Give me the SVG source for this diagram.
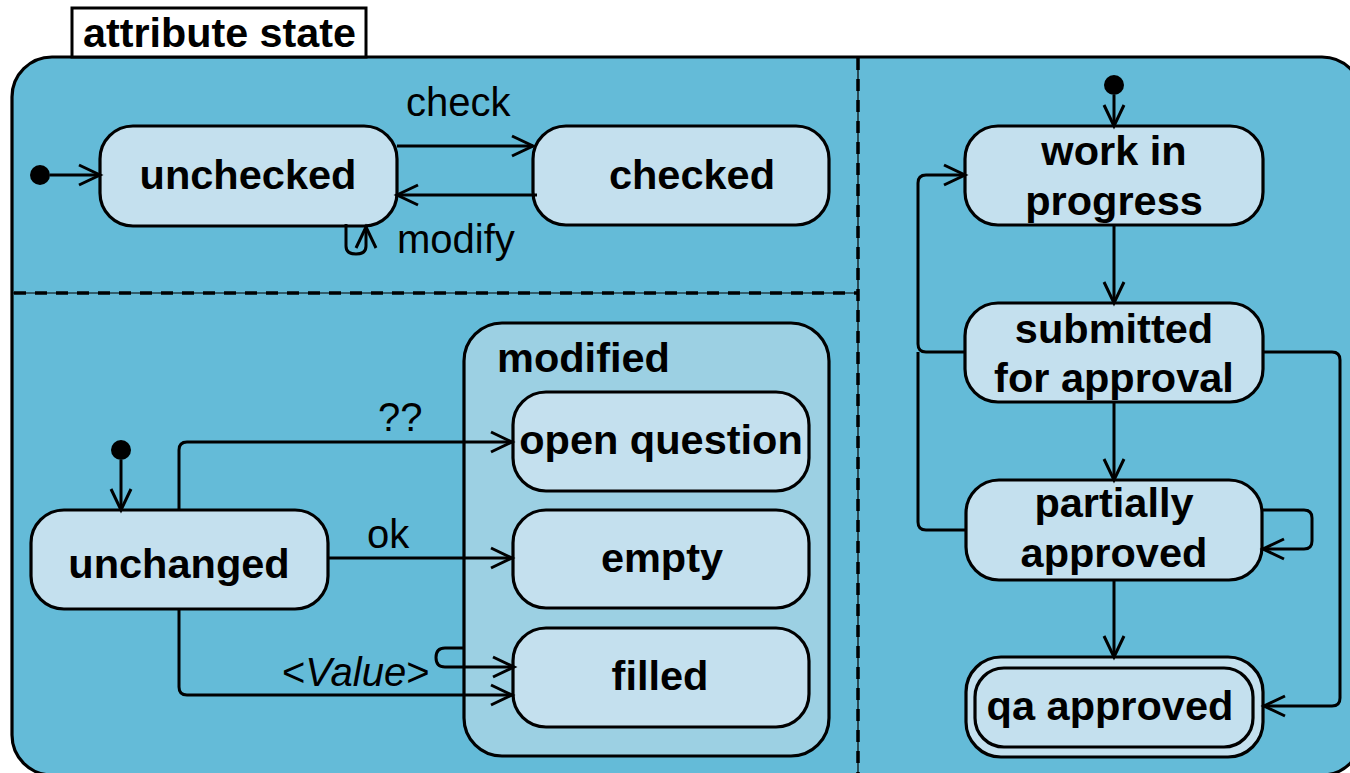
<svg xmlns="http://www.w3.org/2000/svg" width="1350" height="773" viewBox="0 0 1350 773">
<defs>
<style>
.state{fill:#C4E0EE;stroke:#000;stroke-width:3.2}
.lbl{font-family:"Liberation Sans",Arial,sans-serif;font-weight:bold;font-size:41.5px;fill:#000}
.tr{font-family:"Liberation Sans",Arial,sans-serif;font-size:40px;fill:#000}
.conn{fill:none;stroke:#000;stroke-width:3;stroke-linejoin:round}
.dash{fill:none;stroke:#000;stroke-width:3.5;stroke-dasharray:12,9}
.thin{fill:none;stroke:#000;stroke-width:1.2}
</style>
<marker id="arr" markerUnits="userSpaceOnUse" markerWidth="30" markerHeight="30" viewBox="-25 -15 30 30" refX="0" refY="0" orient="auto">
<path d="M-21,-10 L0,0 L-21,10" fill="none" stroke="#000" stroke-width="3"/>
</marker>
</defs>

<g id="container">
<rect x="12" y="57" width="1350" height="718" rx="40" ry="40" fill="#64BBD8" stroke="#000" stroke-width="3.2"/>
<line class="thin" x1="858" y1="58" x2="858" y2="773"/>
<line class="dash" x1="858" y1="58" x2="858" y2="773"/>
<line class="thin" x1="13" y1="293" x2="858" y2="293"/>
<line class="dash" x1="14" y1="293" x2="858" y2="293"/>
</g>

<g id="title">
<rect x="72" y="8" width="294" height="49" fill="#fff" stroke="#000" stroke-width="3"/>
<text class="lbl" x="83" y="47" font-size="39.5" textLength="273" lengthAdjust="spacingAndGlyphs">attribute state</text>
</g>

<g id="modified">
<rect x="464" y="323" width="365" height="433" rx="38" ry="38" fill="#9CD0E3" stroke="#000" stroke-width="3.2"/>
<text class="lbl" x="497" y="372">modified</text>
</g>

<g id="init1"><circle cx="40" cy="175" r="10" fill="#000"/></g>
<g id="init2"><circle cx="121" cy="450" r="10" fill="#000"/></g>
<g id="init3"><circle cx="1114" cy="85" r="10" fill="#000"/></g>

<g id="unchecked">
<rect class="state" x="100" y="126" width="297" height="100" rx="33" ry="33"/>
<text class="lbl" x="248" y="189" text-anchor="middle">unchecked</text>
</g>
<g id="checked">
<rect class="state" x="533" y="126" width="296" height="99" rx="33" ry="33"/>
<text class="lbl" x="692" y="189" text-anchor="middle">checked</text>
</g>
<g id="unchanged">
<rect class="state" x="31" y="510" width="297" height="99" rx="33" ry="33"/>
<text class="lbl" x="179" y="578" text-anchor="middle">unchanged</text>
</g>
<g id="open-question">
<rect class="state" x="513" y="392" width="296" height="99" rx="33" ry="33"/>
<text class="lbl" x="661" y="454" text-anchor="middle">open question</text>
</g>
<g id="empty">
<rect class="state" x="513" y="510" width="296" height="98" rx="33" ry="33"/>
<text class="lbl" x="662" y="572" text-anchor="middle">empty</text>
</g>
<g id="filled">
<rect class="state" x="513" y="628" width="296" height="99" rx="33" ry="33"/>
<text class="lbl" x="660" y="690" text-anchor="middle">filled</text>
</g>
<g id="work-in-progress">
<rect class="state" x="965" y="126" width="298" height="99" rx="33" ry="33"/>
<text class="lbl" x="1114" y="165" text-anchor="middle">work in</text>
<text class="lbl" x="1114" y="215" text-anchor="middle">progress</text>
</g>
<g id="submitted">
<rect class="state" x="965" y="303" width="298" height="99" rx="33" ry="33"/>
<text class="lbl" x="1114" y="343" text-anchor="middle">submitted</text>
<text class="lbl" x="1114" y="392" text-anchor="middle">for approval</text>
</g>
<g id="partially-approved">
<rect class="state" x="966" y="480" width="296" height="100" rx="33" ry="33"/>
<text class="lbl" x="1114" y="517" text-anchor="middle">partially</text>
<text class="lbl" x="1114" y="567" text-anchor="middle">approved</text>
</g>
<g id="qa-approved">
<rect class="state" x="966" y="657" width="297" height="100" rx="35" ry="35"/>
<rect class="state" x="975" y="668" width="278" height="79" rx="29" ry="29"/>
<text class="lbl" x="1110" y="720" text-anchor="middle">qa approved</text>
</g>

<g id="connectors">
<path class="conn" d="M50,175 L100,175" marker-end="url(#arr)"/>
<path class="conn" d="M397,146 L533,146" marker-end="url(#arr)"/>
<path class="conn" d="M537,195 L397,195" marker-end="url(#arr)"/>
<path class="conn" d="M346,224 L346,246 Q346,254 356,254 Q366,254 366,246 L366,227" marker-end="url(#arr)"/>
<path class="conn" d="M121,460 L121,510" marker-end="url(#arr)"/>
<path class="conn" d="M179,510 L179,450 Q179,442 187,442 L512,442" marker-end="url(#arr)"/>
<path class="conn" d="M328,558 L512,558" marker-end="url(#arr)"/>
<path class="conn" d="M179,609 L179,687 Q179,695 187,695 L512,695" marker-end="url(#arr)"/>
<path class="conn" d="M463,648 L445,648 Q436,648 436,657.5 Q436,667 445,667 L514,667" marker-end="url(#arr)"/>
<path class="conn" d="M1114,95 L1114,126" marker-end="url(#arr)"/>
<path class="conn" d="M1114,225 L1114,303" marker-end="url(#arr)"/>
<path class="conn" d="M965,352 L926,352 Q918,352 918,344 L918,183 Q918,175 926,175 L965,175" marker-end="url(#arr)"/>
<path class="conn" d="M966,530 L926,530 Q918,530 918,522 L918,352"/>
<path class="conn" d="M1263,352 L1332,352 Q1340,352 1340,360 L1340,698 Q1340,706 1332,706 L1264,706" marker-end="url(#arr)"/>
<path class="conn" d="M1114,402 L1114,480" marker-end="url(#arr)"/>
<path class="conn" d="M1262,510 L1304,510 Q1312,510 1312,518 L1312,541 Q1312,549 1304,549 L1263,549" marker-end="url(#arr)"/>
<path class="conn" d="M1114,580 L1114,657" marker-end="url(#arr)"/>
<text class="tr" x="406" y="116">check</text>
<text class="tr" x="397" y="253">modify</text>
<text class="tr" x="378" y="431">??</text>
<text class="tr" x="367" y="548">ok</text>
<text class="tr" x="282" y="686">&lt;<tspan font-style="italic">Value</tspan>&gt;</text>
</g>
</svg>
